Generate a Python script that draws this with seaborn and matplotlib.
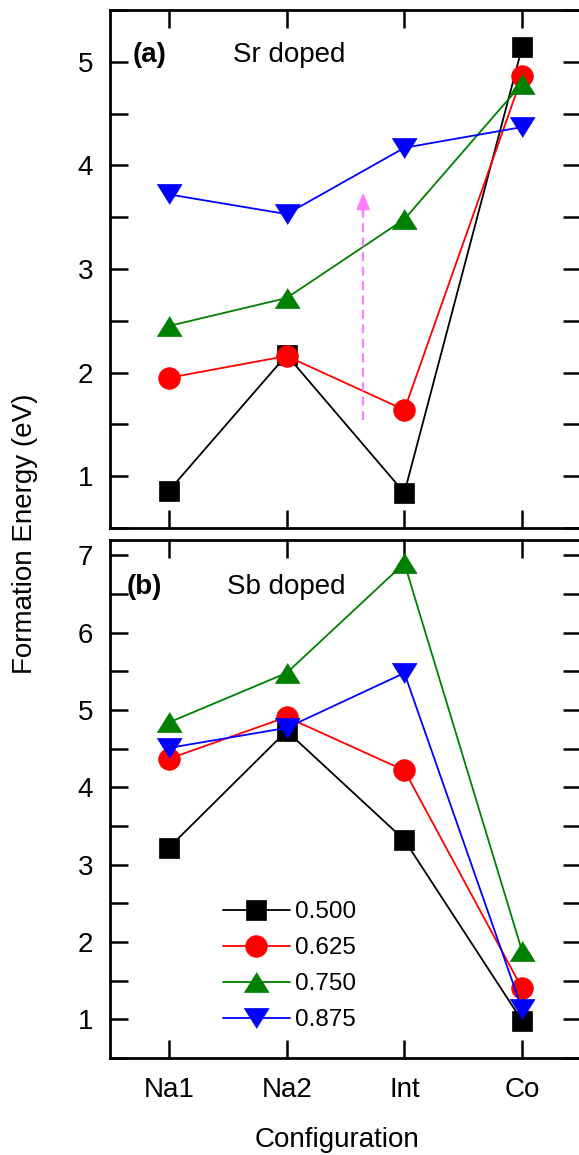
import matplotlib
matplotlib.use("Agg")
import matplotlib.pyplot as plt
from matplotlib.ticker import MultipleLocator
import seaborn as sns
import pandas as pd

# ---------------- data ----------------
configs = ["Na1", "Na2", "Int", "Co"]
labels = ["0.500", "0.625", "0.750", "0.875"]

sr_050 = [0.86, 2.17, 0.84, 5.14]
sr_0625 = [1.95, 2.16, 1.64, 4.86]
sr_075 = [2.45, 2.72, 3.48, 4.79]
sr_0875 = [3.72, 3.53, 4.17, 4.37]

sb_050 = [3.22, 4.73, 3.32, 0.98]
sb_0625 = [4.37, 4.91, 4.22, 1.40]
sb_075 = [4.84, 5.48, 6.90, 1.88]
sb_0875 = [4.51, 4.77, 5.48, 1.13]

arrow_x = 2.65 - 1      # between Na2 and Int (0-based category positions)
arrow_y0, arrow_y1 = 1.54, 3.74

colors = ["#000000", "#FF0000", "#008000", "#0000FF"]
tri_up = [(-1, -0.8), (1, -0.8), (0, 0.8)]
tri_dn = [(-1, 0.8), (1, 0.8), (0, -0.8)]
markers = ["s", "o", tri_up, tri_dn]
msizes = [13.7, 15.6, 18, 18]

sns.set_style("ticks")
plt.rcParams["font.family"] = ["Liberation Sans", "DejaVu Sans"]
plt.rcParams["text.color"] = "black"
plt.rcParams["axes.labelcolor"] = "black"
plt.rcParams["xtick.color"] = "black"
plt.rcParams["ytick.color"] = "black"

W, H = 579, 1155
fig = plt.figure(figsize=(W / 100, H / 100), dpi=100)
ax1 = fig.add_axes([110 / W, 1 - 528 / H, 471 / W, 518 / H])
ax2 = fig.add_axes([110 / W, 1 - 1058 / H, 471 / W, 518 / H])


def draw(ax, series):
    for vals, lab, c, m, ms in zip(series, labels, colors, markers, msizes):
        df = pd.DataFrame({"Configuration": configs, "E": vals})
        sns.lineplot(data=df, x="Configuration", y="E", ax=ax, color=c,
                     marker=m, markersize=ms, markeredgecolor=c,
                     markeredgewidth=0.5, linewidth=1.3, sort=False,
                     label=lab, legend=False)
    ax.set_xlim(-0.5, 3.5)
    ax.set_xlabel("")
    ax.set_ylabel("")
    ax.yaxis.set_major_locator(MultipleLocator(1))
    ax.yaxis.set_minor_locator(MultipleLocator(0.5))
    ax.tick_params(which="both", direction="in", length=13, width=1.8,
                   top=True, right=True, labelsize=20, colors="black",
                   labelcolor="black")
    ax.tick_params(axis="y", pad=12)
    ax.tick_params(axis="x", pad=14)
    for s in ax.spines.values():
        s.set_linewidth(2.0)
        s.set_color("black")


draw(ax1, [sr_050, sr_0625, sr_075, sr_0875])
draw(ax2, [sb_050, sb_0625, sb_075, sb_0875])

ax1.set_ylim(0.5, 5.5)
ax2.set_ylim(0.5, 7.2)
ax1.tick_params(axis="x", labelbottom=False)

# arrow in top panel
pink = "#FF80FF"
ax1.plot([arrow_x, arrow_x], [arrow_y0, arrow_y1 - 0.15], color=pink,
         linestyle=(0, (4, 2.5)), linewidth=1.6)
ax1.annotate("", xy=(arrow_x, arrow_y1), xytext=(arrow_x, arrow_y1 - 0.2),
             arrowprops=dict(arrowstyle="-|>,head_length=1.0,head_width=0.4",
                             color=pink, lw=1.6, shrinkA=0, shrinkB=0))

# panel annotations
ax1.text(-0.305, 5.07, "(a)", fontsize=20, fontweight="bold", va="center", ha="left", color="black")
ax1.text(0.545, 5.07, "Sr doped", fontsize=20, va="center", ha="left", color="black")
ax2.text(-0.356, 6.59, "(b)", fontsize=20, fontweight="bold", va="center", ha="left", color="black")
ax2.text(0.49, 6.59, "Sb doped", fontsize=20, va="center", ha="left", color="black")

handles, labs = ax2.get_legend_handles_labels()
leg = ax2.legend(handles, labs, loc="upper left", bbox_to_anchor=(0.24, 0.303),
                 frameon=False, fontsize=17.5, handlelength=2.75, handletextpad=0.2,
                 labelspacing=0.58, borderpad=0, borderaxespad=0, numpoints=1)
for t in leg.get_texts():
    t.set_color("black")

fig.text(25 / W, 1 - 534 / H, "Formation Energy (eV)", rotation=90,
         fontsize=20, ha="center", va="center", color="black")
fig.text(337 / W, 1 - 1140 / H, "Configuration", fontsize=20,
         ha="center", va="center", color="black")

fig.savefig("out.png", dpi=100)
